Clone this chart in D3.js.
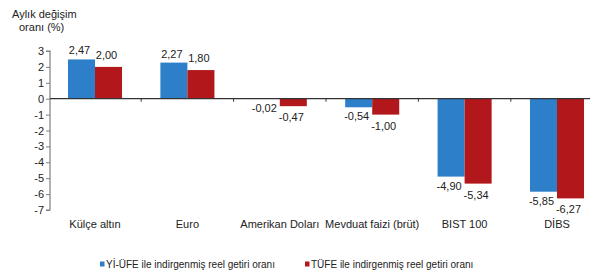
<!DOCTYPE html>
<html><head><meta charset="utf-8">
<script src="https://cdn.jsdelivr.net/npm/d3@7"></script>
<style>body{margin:0;background:#fff;}svg{display:block;font-family:"Liberation Sans",Arial,sans-serif;}</style>
</head><body>
<svg id="c" width="590" height="274"></svg>
<script>
const categories = ["Külçe altın","Euro","Amerikan Doları","Mevduat faizi (brüt)","BIST 100","DİBS"];
const seriesNames = ["Yİ-ÜFE ile indirgenmiş reel getiri oranı","TÜFE ile indirgenmiş reel getiri oranı"];
const yiufe = [2.47, 2.27, -0.02, -0.54, -4.90, -5.85];
const tufe = [2.00, 1.80, -0.47, -1.00, -5.34, -6.27];
const yTicks = [3,2,1,0,-1,-2,-3,-4,-5,-6,-7];
const colors = ["#2e7fc9","#b2171c"];

const svg = d3.select("#c");
const x0 = d3.scaleBand().domain(categories).range([48.8, 603.2]).paddingInner(0).paddingOuter(0);
const x1 = d3.scaleBand().domain([0,1]).range([0, x0.bandwidth()]).paddingOuter(0.71).paddingInner(0);
const y = d3.scaleLinear().domain([-7,3]).range([210, 51]);
const fmt = v => d3.format(".2f")(v).replace(".", ",").replace("−","-");

// y axis
const yAxis = d3.axisLeft(y).tickValues(yTicks).tickSize(4).tickFormat(d => String(d));
const gy = svg.append("g").attr("transform","translate(50,0)").call(yAxis);
gy.select(".domain").attr("stroke","#7f7f7f").attr("stroke-width",1.2).attr("d","M-4,"+y(3)+"H0V"+y(-7)+"H-4");
gy.selectAll(".tick line").attr("stroke","#7f7f7f");
gy.selectAll(".tick text").attr("font-size",11).attr("fill","#222").attr("x",-6);

// bars
const data = categories.map((c,i)=>({c, vals:[yiufe[i], tufe[i]]}));
const groups = svg.selectAll("g.grp").data(data).join("g").attr("class","grp")
  .attr("transform", d=>`translate(${x0(d.c)},0)`);
groups.selectAll("rect").data(d=>d.vals.map((v,k)=>({v,k}))).join("rect")
  .attr("x", d=>x1(d.k)).attr("width", x1.bandwidth())
  .attr("y", d=>y(Math.max(0,d.v))).attr("height", d=>Math.abs(y(d.v)-y(0)))
  .attr("fill", d=>colors[d.k]);

// zero axis
const xAxis = d3.axisBottom(x0).tickSize(0).tickFormat("");
const gx = svg.append("g").attr("transform",`translate(0,${y(0)})`).call(xAxis);
gx.select(".domain").attr("stroke","#333").attr("stroke-width",1.2).attr("d",`M50,0H603`);
svg.append("g").selectAll("line").data(categories.slice(1)).join("line")
  .attr("x1", d=>x0(d)).attr("x2", d=>x0(d)).attr("y1", y(0)).attr("y2", y(0)+3)
  .attr("stroke","#333");

// value labels
groups.selectAll("text.val").data(d=>d.vals.map((v,k)=>({v,k}))).join("text").attr("class","val")
  .attr("x", d=>x1(d.k)+x1.bandwidth()/2 - 2)
  .attr("y", d=> d.v>=0 ? y(d.v) - (d.k===0?5:8) : y(d.v) + (d.k===0?13:15))
  .attr("text-anchor","middle").attr("font-size",11).attr("fill","#222")
  .text(d=>fmt(d.v));

// category labels
svg.append("g").selectAll("text").data(categories).join("text")
  .attr("x", d=>x0(d)+x0.bandwidth()/2).attr("y", 228)
  .attr("text-anchor","middle").attr("font-size",11).attr("fill","#222").text(d=>d);

// title
svg.append("text").attr("x",12).attr("y",18).attr("font-size",11).attr("fill","#222").text("Aylık değişim");
svg.append("text").attr("x",19).attr("y",31).attr("font-size",11).attr("fill","#222").text("oranı (%)");

// legend
const legX = [100, 305];
const leg = svg.append("g").selectAll("g").data(seriesNames).join("g")
  .attr("transform",(d,i)=>`translate(${legX[i]},268)`);
leg.append("rect").attr("x",0).attr("y",-6.5).attr("width",4.5).attr("height",5).attr("fill",(d,i)=>colors[i]);
leg.append("text").attr("x",6).attr("y",0).attr("font-size",10).attr("fill","#222").text(d=>d);
</script>
</body></html>
